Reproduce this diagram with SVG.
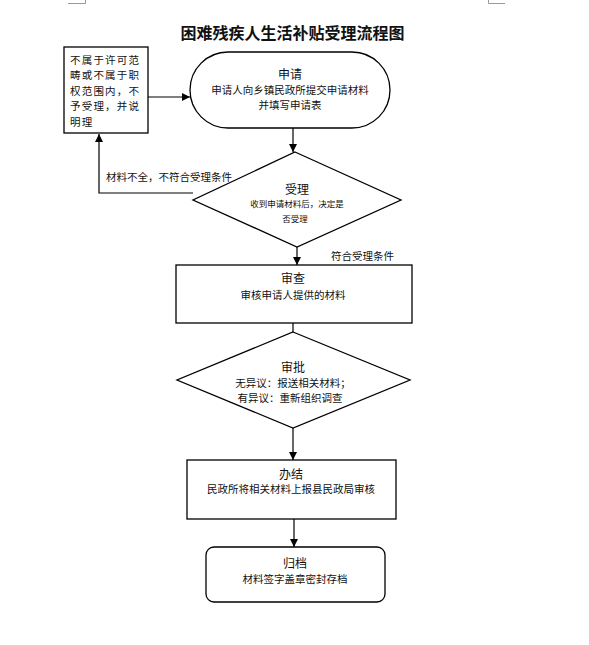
<svg xmlns="http://www.w3.org/2000/svg" width="589" height="645" viewBox="0 0 589 645">
<style>
text{font-family:"Noto Sans CJK SC","Noto Sans",sans-serif;fill:#111;dominant-baseline:central}
.t{font-size:16px;font-weight:bold;text-anchor:middle}
.h{font-size:12px;text-anchor:middle}
.b{font-size:10.5px;text-anchor:middle}
.s{font-size:8.5px;text-anchor:middle}
.l{font-size:10.5px}
.shape{fill:#fff;stroke:#000;stroke-width:1.3}
.c{fill:none;stroke:#000;stroke-width:1.2}
.mark{fill:none;stroke:#999;stroke-width:1}
</style>
<defs>
<marker id="ah" viewBox="0 0 10 10" refX="10" refY="5" markerWidth="8" markerHeight="8" markerUnits="userSpaceOnUse" orient="auto">
<path d="M0,0 L10,5 L0,10 z" fill="#000"/>
</marker>
</defs>
<rect width="589" height="645" fill="#fff"/>
<path class="mark" d="M68,3.5 H85.5 V0"/>
<path class="mark" d="M505,3.5 H488.5 V0"/>
<text class="t" x="292.5" y="32">困难残疾人生活补贴受理流程图</text>
<g id="connectors">
<line class="c" x1="148" y1="97" x2="190" y2="97" marker-end="url(#ah)"/>
<line class="c" x1="293" y1="128" x2="293" y2="152" marker-end="url(#ah)"/>
<polyline class="c" points="193,193 99,193 99,134" marker-end="url(#ah)"/>
<line class="c" x1="297" y1="247" x2="297" y2="265" marker-end="url(#ah)"/>
<line class="c" x1="293" y1="323" x2="293" y2="332"/>
<line class="c" x1="293" y1="428" x2="293" y2="460" marker-end="url(#ah)"/>
<line class="c" x1="294" y1="519" x2="294" y2="547" marker-end="url(#ah)"/>
<text class="l" x="106" y="176">材料不全，不符合受理条件</text>
<text class="l" x="331" y="255">符合受理条件</text>
</g>
<g id="reject">
<rect class="shape" x="64" y="47" width="84" height="86"/>
<text class="l" x="70" y="59" letter-spacing="1.2">不属于许可范</text>
<text class="l" x="70" y="74.5" letter-spacing="1.2">畴或不属于职</text>
<text class="l" x="70" y="90" letter-spacing="1.2">权范围内，不</text>
<text class="l" x="70" y="105.5" letter-spacing="1.2">予受理，并说</text>
<text class="l" x="70" y="121" letter-spacing="1.2">明理</text>
</g>
<g id="apply">
<rect class="shape" x="190" y="52" width="200" height="76" rx="38"/>
<text class="h" x="290" y="73">申请</text>
<text class="b" x="290" y="89">申请人向乡镇民政所提交申请材料</text>
<text class="b" x="290" y="104">并填写申请表</text>
</g>
<g id="accept">
<polygon class="shape" points="295,152 401,200 297,247 193,200"/>
<text class="h" x="297" y="188">受理</text>
<text class="s" x="297" y="203">收到申请材料后，决定是</text>
<text class="s" x="295" y="218">否受理</text>
</g>
<g id="review">
<rect class="shape" x="176" y="265" width="236" height="58"/>
<text class="h" x="293" y="277">审查</text>
<text class="b" x="293" y="294">审核申请人提供的材料</text>
</g>
<g id="approve">
<polygon class="shape" points="293,332 410,380 293,428 177,380"/>
<text class="h" x="293" y="366">审批</text>
<text class="b" x="293" y="382">无异议：报送相关材料；</text>
<text class="b" x="290" y="397">有异议：重新组织调查</text>
</g>
<g id="finish">
<rect class="shape" x="187" y="460" width="209" height="59"/>
<text class="h" x="291" y="473">办结</text>
<text class="b" x="291" y="488">民政所将相关材料上报县民政局审核</text>
</g>
<g id="archive">
<rect class="shape" x="206" y="547" width="179" height="55" rx="8"/>
<text class="h" x="295" y="562">归档</text>
<text class="b" x="295" y="578">材料签字盖章密封存档</text>
</g>
</svg>
